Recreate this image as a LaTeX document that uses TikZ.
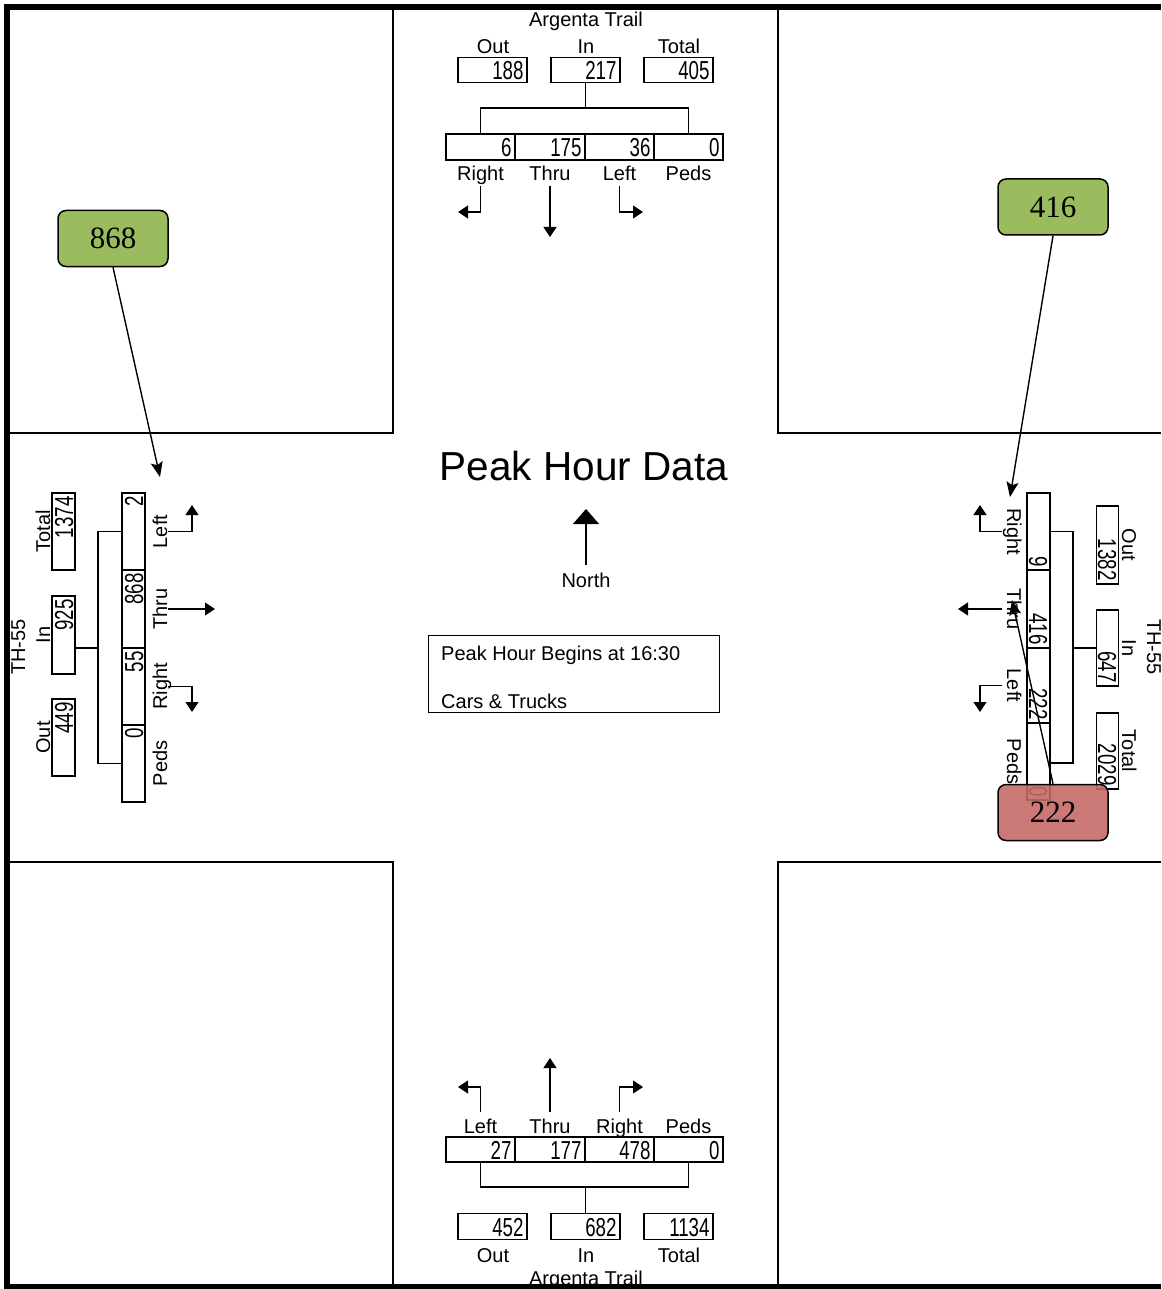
\documentclass[tikz,border=0pt]{standalone}
\usepackage{fontspec}
\setmainfont{Liberation Sans}
\newfontfamily\calloutfont{Liberation Serif}
\usetikzlibrary{arrows.meta,calc}
\newcommand{\nm}[1]{\scalebox{0.72}[1]{#1}}
\newcommand{\numf}{\fontsize{26}{26}\selectfont}
\newcommand{\labf}{\fontsize{20}{22}\selectfont}
\definecolor{calgreen}{RGB}{155,187,95}
\definecolor{calred}{RGB}{196,106,104}
\begin{document}
\begin{tikzpicture}[x=1pt,y=-1pt,
  nb/.style={draw, line width=1.1pt, inner xsep=3.5pt, inner ysep=0pt, text width=#1, align=right,
    minimum height=25pt, text height=19pt, text depth=0pt, font=\numf},
  lab/.style={inner sep=0pt, font=\labf, anchor=base},
  conn/.style={line width=1.1pt},
  tarr/.style={line width=1.1pt, -{Triangle[length=10pt,width=13pt]}},
  quad/.style={line width=1.4pt},
  frame/.style={line width=6pt},
  callout/.style={draw, line width=1.5pt, rounded corners=8pt, minimum width=110pt, minimum height=56pt,
    inner sep=0pt, font=\calloutfont\fontsize{31}{31}\selectfont},
  carr/.style={line width=1.4pt, -{Stealth[length=15pt,width=12pt,inset=3pt]}}
]
\useasboundingbox (0,0) rectangle (1161,1289);

% quadrant corners
\draw[quad] (393,10) -- (393,433) -- (10,433);
\draw[quad] (778,10) -- (778,433) -- (1161,433);
\draw[quad] (10,862) -- (393,862) -- (393,1285);
\draw[quad] (1161,862) -- (778,862) -- (778,1285);

% ---------- top (Argenta Trail, north) ----------
\node[lab] (tName) at (586,27) {Argenta Trail};
\node[lab] (tOutL) at (493,54) {Out};
\node[lab] (tInL) at (586,54) {In};
\node[lab] (tTotL) at (679,54) {Total};
\node[nb=62] (tOut) at (492.5,70) {\nm{188}};
\node[nb=62] (tIn) at (585.5,70) {\nm{217}};
\node[nb=62] (tTot) at (678.5,70) {\nm{405}};
\node[nb=62, minimum height=26pt] (tR) at (480.5,147) {\nm{6}};
\node[nb=63, minimum height=26pt] (tT) at (550,147) {\nm{175}};
\node[nb=62, minimum height=26pt] (tL) at (619.5,147) {\nm{36}};
\node[nb=62, minimum height=26pt] (tP) at (688.5,147) {\nm{0}};
\coordinate (tJ) at (585.5,108);
\draw[conn] (tIn.south) -- (tJ);
\draw[conn] (tR.north) |- (tJ) -| (tP.north);
\node[lab] (tRL) at (480.5,181) {Right};
\node[lab] (tTL) at (550,181) {Thru};
\node[lab] (tLL) at (619.5,181) {Left};
\node[lab] (tPL) at (688.5,181) {Peds};
\draw[tarr] (480.5,186) -- (480.5,212) -- (458,212);
\draw[tarr] (550,186) -- (550,237);
\draw[tarr] (619.5,186) -- (619.5,212) -- (643,212);

% ---------- bottom (Argenta Trail, south) ----------
\draw[tarr] (480.5,1112) -- (480.5,1087) -- (458,1087);
\draw[tarr] (550,1112) -- (550,1058);
\draw[tarr] (619.5,1112) -- (619.5,1087) -- (643,1087);
\node[lab] (bLL) at (480.5,1133) {Left};
\node[lab] (bTL) at (550,1133) {Thru};
\node[lab] (bRL) at (619.5,1133) {Right};
\node[lab] (bPL) at (688.5,1133) {Peds};
\node[nb=62] (bL) at (480.5,1149.5) {\nm{27}};
\node[nb=63] (bT) at (550,1149.5) {\nm{177}};
\node[nb=62] (bR) at (619.5,1149.5) {\nm{478}};
\node[nb=62] (bP) at (688.5,1149.5) {\nm{0}};
\coordinate (bJ) at (585.5,1187);
\draw[conn] (bL.south) |- (bJ) -| (bP.south);
\node[nb=62, minimum height=26pt] (bOut) at (492.5,1226.5) {\nm{452}};
\node[nb=62, minimum height=26pt] (bIn) at (585.5,1226.5) {\nm{682}};
\node[nb=62, minimum height=26pt] (bTot) at (678.5,1226.5) {\nm{1134}};
\draw[conn] (bJ) -- (bIn.north);
\node[lab] (bOutL) at (493,1262) {Out};
\node[lab] (bInL) at (586,1262) {In};
\node[lab] (bTotL) at (679,1262) {Total};
\node[lab] (bName) at (586,1285) {Argenta Trail};

% ---------- left (TH-55, west) ----------
\node[lab, rotate=90] (lName) at (25,647) {TH-55};
\node[lab, rotate=90] (lTotL) at (50,531.5) {Total};
\node[lab, rotate=90] (lInL) at (50,635) {In};
\node[lab, rotate=90] (lOutL) at (50,737.5) {Out};
\node[nb=70, minimum height=23pt, rotate=90] (lTot) at (63.5,531.5) {\nm{1374}};
\node[nb=71, minimum height=23pt, rotate=90] (lIn) at (63.5,635) {\nm{925}};
\node[nb=70, minimum height=23pt, rotate=90] (lOut) at (63.5,737.5) {\nm{449}};
\node[nb=70, minimum height=23pt, rotate=90] (lL) at (133.5,531.5) {\nm{2}};
\node[nb=71, minimum height=23pt, rotate=90] (lT) at (133.5,609) {\nm{868}};
\node[nb=70, minimum height=23pt, rotate=90] (lR) at (133.5,686.5) {\nm{55}};
\node[nb=70, minimum height=23pt, rotate=90] (lP) at (133.5,763.5) {\nm{0}};
\coordinate (lJt) at (98,531.5);
\coordinate (lJb) at (98,763.5);
\coordinate (lJ) at (98,648);
\draw[conn] (lL.north) -- (lJt) -- (lJb) -- (lP.north);
\draw[conn] (lJ) -- (lJ -| lIn.south);
\node[lab, rotate=90] (lLL) at (167,531.5) {Left};
\node[lab, rotate=90] (lTL) at (167,609) {Thru};
\node[lab, rotate=90] (lRL) at (167,686.5) {Right};
\node[lab, rotate=90] (lPL) at (167,763.5) {Peds};
\draw[tarr] (168,531.5) -- (192,531.5) -- (192,505);
\draw[tarr] (168,609) -- (215,609);
\draw[tarr] (168,686.5) -- (192,686.5) -- (192,712);

% ---------- right (TH-55, east) ----------
\node[lab, rotate=-90] (rName) at (1147,647) {TH-55};
\node[lab, rotate=-90] (rOutL) at (1122,545) {Out};
\node[lab, rotate=-90] (rInL) at (1122,648) {In};
\node[lab, rotate=-90] (rTotL) at (1122,751) {Total};
\node[nb=71, minimum height=22pt, rotate=-90] (rOut) at (1107.5,545) {\nm{1382}};
\node[nb=69, minimum height=22pt, rotate=-90] (rIn) at (1107.5,648) {\nm{647}};
\node[nb=69, minimum height=22pt, rotate=-90] (rTot) at (1107.5,751) {\nm{2029}};
\node[nb=70, minimum height=23pt, rotate=-90] (rR) at (1038.5,531.5) {\nm{9}};
\node[nb=71, minimum height=23pt, rotate=-90] (rT) at (1038.5,609) {\nm{416}};
\node[nb=68, minimum height=23pt, rotate=-90] (rL) at (1038.5,685.5) {\nm{222}};
\node[nb=70, minimum height=23pt, rotate=-90] (rP) at (1038.5,761.5) {\nm{0}};
\coordinate (rJt) at (1073,531.5);
\coordinate (rJb) at (1073,763);
\coordinate (rJ) at (1073,648);
\draw[conn] (rR.north) -- (rJt) -- (rJb) -- (rJb -| rP.north);
\draw[conn] (rJ) -- (rIn.south);
\node[lab, rotate=-90] (rRL) at (1007,531.5) {Right};
\node[lab, rotate=-90] (rTL) at (1007,609) {Thru};
\node[lab, rotate=-90] (rLL) at (1007,685.5) {Left};
\node[lab, rotate=-90] (rPL) at (1007,761.5) {Peds};
\draw[tarr] (1002,531.5) -- (980,531.5) -- (980,505);
\draw[tarr] (1002,609) -- (958,609);
\draw[tarr] (1002,685.5) -- (980,685.5) -- (980,712);

% ---------- centre ----------
\node[inner sep=0pt, anchor=base, font=\fontsize{40.5}{40.5}\selectfont] (title) at (584,480) {Peak Hour Data};
\node[lab] (northL) at (586,587) {North};
\coordinate (nTail) at (586,565);
\coordinate (nTip) at (586,509);
\draw[line width=1.1pt, -{Triangle[length=15pt,width=26pt]}] (nTail) -- (nTip);
\node[draw, line width=1.1pt, minimum width=291pt, minimum height=77pt, inner sep=0pt] (info) at (574,674) {};
\node[inner sep=0pt, anchor=base west, font=\labf] (info1) at (441,660) {Peak Hour Begins at 16:30};
\node[inner sep=0pt, anchor=base west, font=\labf] (info2) at (441,708) {Cars \& Trucks};

% ---------- callouts ----------
\node[callout, fill=calgreen] (c868) at (113,238.5) {868};
\node[callout, fill=calgreen] (c416) at (1053,207) {416};
\node[callout, fill=calred, fill opacity=0.9, text opacity=1] (c222) at (1053,812.5) {222};
\coordinate (p868) at (160,477);
\coordinate (p416) at (1010,497);
\coordinate (p222) at (1012,600);
\draw[carr] (c868.south) -- (p868);
\draw[carr] (c416.south) -- (p416);
\draw[carr] (c222.north) -- (p222);

% frame
\draw[frame] (1161,7) -- (7,7) -- (7,1286.5) -- (1161,1286.5);
\end{tikzpicture}
\end{document}
